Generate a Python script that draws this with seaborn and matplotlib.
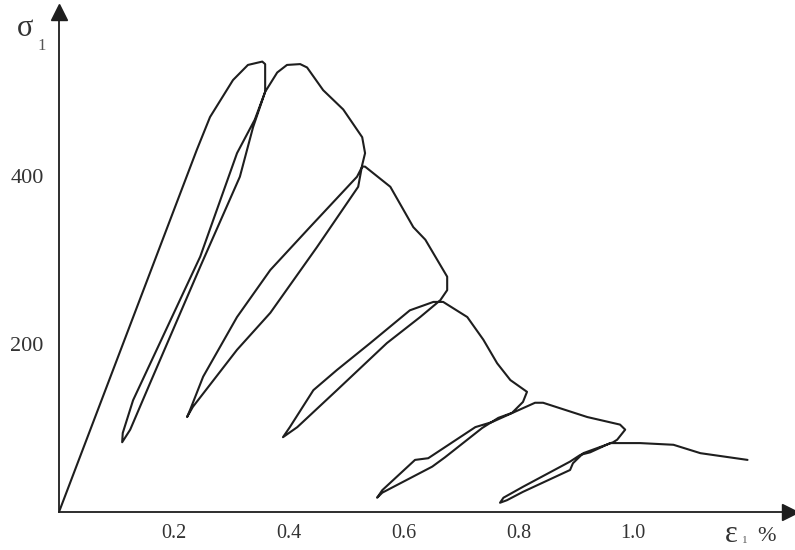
import numpy as np
import pandas as pd
import matplotlib
matplotlib.use("Agg")
import matplotlib.pyplot as plt
import seaborn as sns

# strain (%) and stress, one cycle at a time
strain_c1 = [0.0, 0.240, 0.263, 0.303, 0.329, 0.354, 0.359, 0.359, 0.341,
             0.310, 0.246, 0.129, 0.111, 0.110,
             0.124, 0.159, 0.246, 0.315, 0.338, 0.359]
stress_c1 = [0, 431, 470, 514, 532, 536, 533, 500, 467,
             427, 304, 133, 94, 83,
             98, 154, 292, 399, 458, 500]

strain_c2 = [0.380, 0.397, 0.420, 0.432, 0.460, 0.495, 0.528, 0.533, 0.528,
             0.521, 0.449, 0.368, 0.310, 0.233, 0.223,
             0.228, 0.251, 0.310, 0.368, 0.437, 0.519, 0.528]
stress_c2 = [523, 532, 533, 529, 502, 479, 446, 427, 413,
             387, 315, 237, 193, 125, 113,
             121, 161, 232, 288, 339, 399, 411]

strain_c3 = [0.533, 0.577, 0.617, 0.638, 0.676, 0.676, 0.664,
             0.629, 0.571, 0.484, 0.415, 0.390,
             0.402, 0.443, 0.484, 0.542, 0.611, 0.652, 0.669]
stress_c3 = [411, 387, 339, 324, 280, 264, 252,
             232, 201, 145, 101, 89,
             101, 145, 169, 201, 240, 250, 250]

strain_c4 = [0.711, 0.739, 0.763, 0.786, 0.815, 0.808, 0.789,
             0.765, 0.737, 0.672, 0.650, 0.563, 0.554,
             0.563, 0.620, 0.643, 0.725, 0.754, 0.829, 0.843]
stress_c4 = [232, 205, 177, 157, 143, 131, 118,
             112, 100, 65, 54, 23, 17,
             26, 62, 64, 101, 107, 130, 130]

strain_c5 = [0.920, 0.977, 0.986, 0.972, 0.965,
             0.913, 0.895, 0.890, 0.808, 0.780, 0.768,
             0.774, 0.808, 0.890, 0.908, 0.925, 0.960, 0.983, 1.012,
             1.070, 1.117, 1.199]
stress_c5 = [113, 104, 98, 86, 83,
             70, 58, 50, 24, 14, 11,
             17, 30, 60, 68, 71, 82, 82, 82,
             80, 70, 62]

x_ticks = [0.1, 0.2, 0.3, 0.4, 0.5, 0.6, 0.7, 0.8, 0.9, 1.0, 1.1]
x_labels = ["", "0.2", "", "0.4", "", "0.6", "", "0.8", "", "1.0", ""]
y_ticks = [100, 200, 300, 400, 500]
y_labels = ["", "200", "", "400", ""]

strain = strain_c1 + strain_c2 + strain_c3 + strain_c4 + strain_c5
stress = stress_c1 + stress_c2 + stress_c3 + stress_c4 + stress_c5
df = pd.DataFrame({"strain": strain, "stress": stress})

sns.set_style("white")
plt.rcParams["font.family"] = ["Liberation Serif", "DejaVu Serif"]

fig = plt.figure(figsize=(7.95, 5.5), dpi=100)
ax = fig.add_axes([59 / 795, 38 / 550, 731 / 795, 500 / 550])

ink = "#1e1e1e"
sns.lineplot(data=df, x="strain", y="stress", sort=False, estimator=None,
             color=ink, lw=1.5, ax=ax)

ax.set_xlim(0, 1.273)
ax.set_ylim(0, 595)
ax.set_xlabel("")
ax.set_ylabel("")

sns.despine(ax=ax)
for side in ["left", "bottom"]:
    ax.spines[side].set_color(ink)
    ax.spines[side].set_linewidth(1.3)

# arrow heads on the axes
ax.plot(1, 0, ">", color=ink, ms=11, transform=ax.transAxes, clip_on=False)
ax.plot(0, 1, "^", color=ink, ms=11, transform=ax.transAxes, clip_on=False)

ax.set_xticks(x_ticks)
ax.set_xticklabels(x_labels)
ax.set_yticks(y_ticks)
ax.set_yticklabels(y_labels)
ax.tick_params(axis="x", direction="inout", length=8, width=1.2, colors=ink,
               labelsize=14.5, pad=5)
ax.tick_params(axis="y", direction="inout", length=6, width=1.2, colors=ink,
               labelsize=16, pad=8)
for lab in ax.get_xticklabels() + ax.get_yticklabels():
    lab.set_color("#333333")

# axis titles
fig.text(17 / 795, 1 - 36 / 550, "σ", fontsize=22, color="#333333")
fig.text(37 / 795, 1 - 50 / 550, "1", fontsize=12, color="#555555")
fig.text(725 / 795, 1 - 542 / 550, "ε", fontsize=22, color="#333333")
fig.text(742 / 795, 1 - 543 / 550, "1", fontsize=8, color="#555555")
fig.text(757 / 795, 1 - 541 / 550, "%", fontsize=16, color="#333333")

fig.savefig("out.png", dpi=100, facecolor="white")
